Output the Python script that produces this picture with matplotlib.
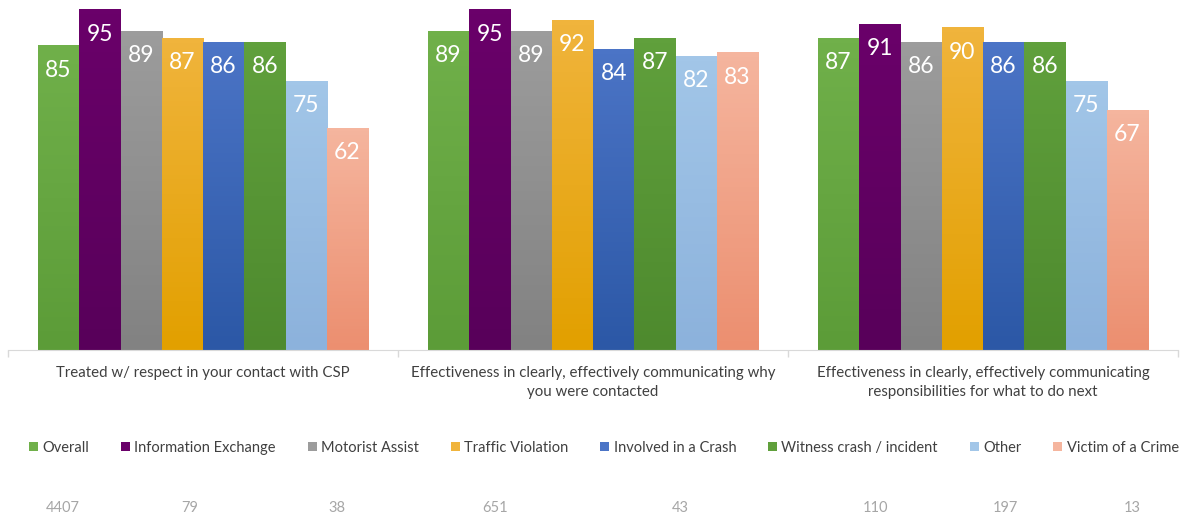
import numpy as np
import matplotlib.pyplot as plt
from matplotlib.colors import LinearSegmentedColormap
from matplotlib.patches import Patch

plt.rcParams['font.family'] = ['Lato', 'DejaVu Sans']

groups = ['Treated w/ respect in your contact with CSP',
          'Effectiveness in clearly, effectively communicating why\nyou were contacted',
          'Effectiveness in clearly, effectively communicating\nresponsibilities for what to do next']
series = ['Overall', 'Information Exchange', 'Motorist Assist', 'Traffic Violation',
          'Involved in a Crash', 'Witness crash / incident', 'Other', 'Victim of a Crime']
treated = [85, 95, 89, 87, 86, 86, 75, 62]
why_contacted = [89, 95, 89, 92, 84, 87, 82, 83]
what_next = [87, 91, 86, 90, 86, 86, 75, 67]
counts = [4407, 79, 38, 651, 43, 110, 197, 13]

# (top, bottom) colours for the vertical gradient of each series
shades = [('#70b04a', '#5c9c38'),
          ('#6a006a', '#58005a'),
          ('#9c9c9c', '#828282'),
          ('#f0b43c', '#e2a000'),
          ('#4b74c6', '#2c58a6'),
          ('#60a03c', '#4e8a2e'),
          ('#a2c6e8', '#8cb2dc'),
          ('#f5b59e', '#ec8f70')]

W, H = 1182, 519
fig = plt.figure(figsize=(W / 100, H / 100), dpi=100)
ax = fig.add_axes([8 / W, (H - 350) / H, 1170 / W, 350 / H])

values = np.array([treated, why_contacted, what_next])
n = len(series)
width = 41.25 / 390
grad = np.linspace(0, 1, 64).reshape(-1, 1)

for j in range(n):
    xs = np.arange(len(groups)) + (j - (n - 1) / 2) * width
    bars = ax.bar(xs, values[:, j], width=width, color=shades[j][0], linewidth=0)
    cmap = LinearSegmentedColormap.from_list('g%d' % j, [shades[j][1], shades[j][0]])
    for b, v in zip(bars, values[:, j]):
        x0 = b.get_x()
        ax.imshow(grad, cmap=cmap, origin='lower', aspect='auto',
                  extent=(x0, x0 + width, 0, v), zorder=2)
        ax.text(x0 + width / 2, v - 6.8, str(v), ha='center', va='center',
                color='white', fontsize=16.5, zorder=3)

ax.set_xlim(-0.5, len(groups) - 0.5)
ax.set_ylim(0, 350 / 3.58)

for s in ['left', 'right', 'top']:
    ax.spines[s].set_visible(False)
ax.spines['bottom'].set_color('#d9d9d9')
ax.set_yticks([])
ax.set_xticks(np.arange(len(groups) + 1) - 0.5)
ax.set_xticklabels([])
ax.tick_params(axis='x', length=5, color='#d9d9d9', width=1)

for i, g in enumerate(groups):
    ax.text(i, -4.6, g, ha='center', va='top', fontsize=10.8, color='#404040',
            linespacing=1.4)

handles = [Patch(facecolor=shades[j][0], edgecolor='none') for j in range(n)]
fig.legend(handles, series, ncol=n, loc='center', bbox_to_anchor=(604 / W, 1 - 448 / H),
           frameon=False, fontsize=10.5, labelcolor='#404040', handlelength=0.6,
           handleheight=0.6, handletextpad=0.3, columnspacing=2.2)

count_x = [63, 190, 337, 495, 680, 875, 1005, 1132]
for cx, c in zip(count_x, counts):
    fig.text(cx / W, 1 - 508 / H, str(c), ha='center', va='center',
             fontsize=10.5, color='#a6a6a6')

fig.savefig('out.png', dpi=100)
